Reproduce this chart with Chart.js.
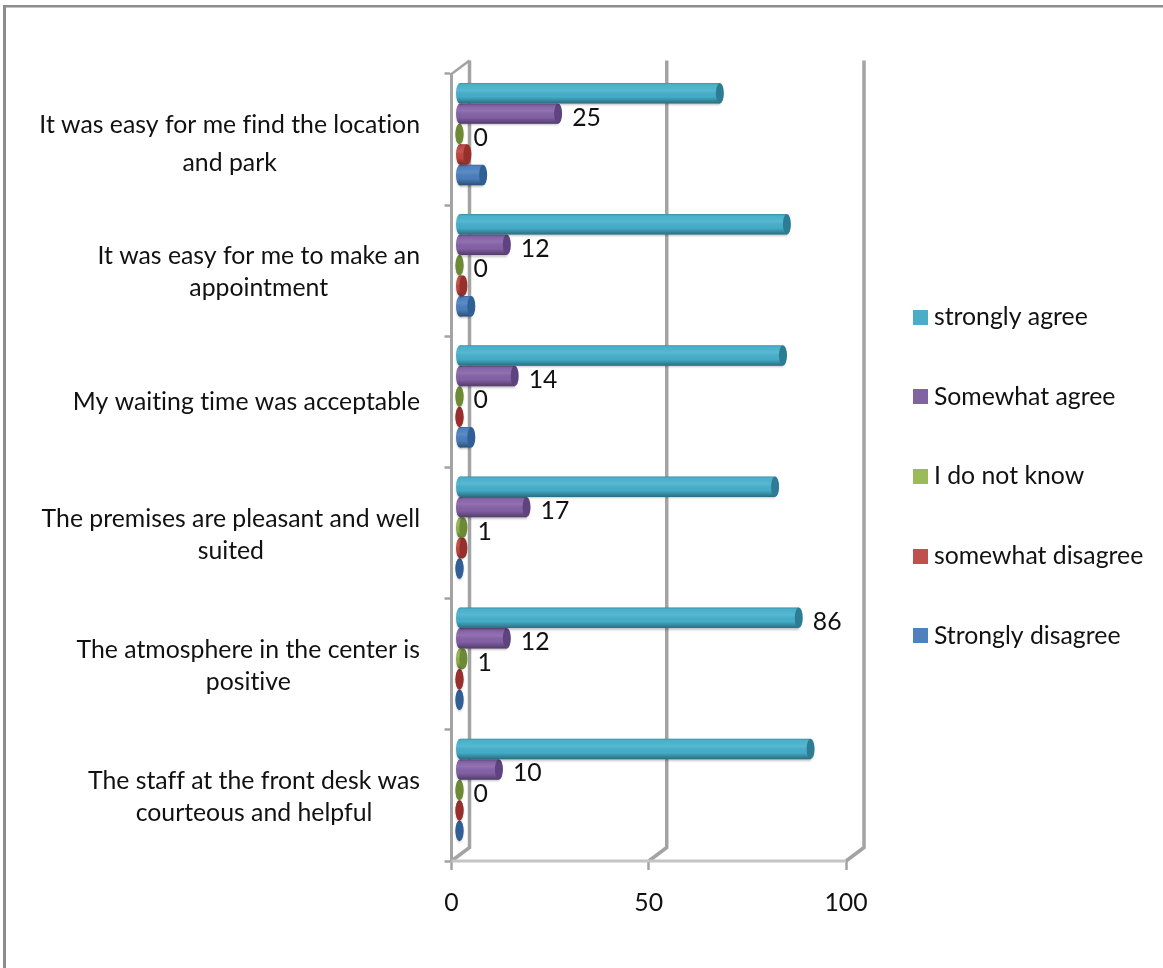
<!DOCTYPE html>
<html><head><meta charset="utf-8">
<style>html,body{margin:0;padding:0;background:#fff}canvas{display:block}</style>
<script src="https://cdn.jsdelivr.net/npm/chart.js@4"></script>
</head><body><canvas id="c" width="1163" height="968"></canvas>
<script>
const categories = [
  ["It was easy for me find the location","and park"],
  ["It was easy for me to make an","appointment"],
  ["My waiting time was acceptable"],
  ["The premises are pleasant and well","suited"],
  ["The atmosphere in the center is","positive"],
  ["The staff at the front desk was","courteous and helpful"]
];
const stronglyAgree    = [66,83,82,80,86,89];
const somewhatAgree    = [25,12,14,17,12,10];
const doNotKnow        = [0,0,0,1,1,0];
const somewhatDisagree = [2,1,0,1,0,0];
const stronglyDisagree = [6,3,3,0,0,0];
const xTicks = [0,50,100];
const FONT = 'Lato';
const FS = 24.8;
const GREY = '#a3a3a3';
const DX = 18, DY = -13.5, BX = 8, BY = -5.5, RX = 4;

const mk = (label,data,color,cap,labelled)=>({label,data,backgroundColor:color,capColor:cap,labelled,borderWidth:0,categoryPercentage:.78,barPercentage:1});
const datasets = [
  mk('strongly agree',stronglyAgree,'#45b0cc','#2c7d93',[4]),
  mk('Somewhat agree',somewhatAgree,'#8562a8','#5f4380',[0,1,2,3,4,5]),
  mk('I do not know',doNotKnow,'#8fb04c','#6c8a35',[0,1,2,3,4,5]),
  mk('somewhat disagree',somewhatDisagree,'#c0453f','#97302c',[]),
  mk('Strongly disagree',stronglyDisagree,'#4a7fbe','#2f5f95',[])
];
const legendColors = ['#4bacc6','#8064a2','#9bbb59','#c0504d','#4f81bd'];
const swatch = col=>{
  const s=document.createElement('canvas'); s.width=15; s.height=15;
  const g=s.getContext('2d'); g.fillStyle=col; g.fillRect(0,0,15,15); return s;
};

function shade(ctx,top,h){
  const g = ctx.createLinearGradient(0,top,0,top+h);
  g.addColorStop(0,'rgba(0,0,0,.2)');
  g.addColorStop(.14,'rgba(255,255,255,.02)');
  g.addColorStop(.36,'rgba(255,255,255,.10)');
  g.addColorStop(.68,'rgba(0,0,0,.02)');
  g.addColorStop(1,'rgba(0,0,0,.38)');
  return g;
}
const bars3d = {
  id:'bars3d',
  afterLayout(chart){
    const l = chart.legend;
    const pad = l.options.labels.padding;
    l.left = 919.5-pad; l.right = 1400; l.width = l.right-l.left;
    l.top = 0; l.bottom = 953;
  },
  beforeDraw(chart){
    const c = chart.ctx;
    c.save();
    c.fillStyle='#8c8c8c';
    c.fillRect(3,5,1160,2.5);
    c.fillRect(3,5,3,963);
    c.restore();
  },
  beforeDatasetsDraw(chart){
    const c = chart.ctx, x = chart.scales.x, a = chart.chartArea;
    c.save();
    c.strokeStyle = GREY; c.lineWidth = 3.5;
    xTicks.forEach(v=>{
      const px = x.getPixelForValue(v);
      c.beginPath();
      c.moveTo(px,a.bottom); c.lineTo(px+DX,a.bottom+DY); c.lineTo(px+DX,a.top+DY);
      c.stroke();
    });
    const p0 = x.getPixelForValue(0);
    c.lineWidth = 2.5;
    c.beginPath(); c.moveTo(p0,a.top); c.lineTo(p0+DX,a.top+DY); c.stroke();
    c.strokeStyle='#c4c4c4'; c.lineWidth=3;
    c.beginPath(); c.moveTo(p0,a.bottom); c.lineTo(x.getPixelForValue(100),a.bottom); c.stroke();
    c.restore();
  },
  beforeDatasetDraw(chart,args){
    const c = chart.ctx, ds = chart.data.datasets[args.index];
    c.save();
    c.translate(BX,BY);
    c.shadowColor='rgba(0,0,0,.22)'; c.shadowBlur=2; c.shadowOffsetY=1.5;
    chart.getDatasetMeta(args.index).data.forEach(b=>{
      c.fillStyle = ds.backgroundColor;
      c.beginPath(); c.ellipse(b.base,b.y,RX,b.height/2,0,0,Math.PI*2); c.fill();
    });
  },
  afterDatasetDraw(chart,args){
    const c = chart.ctx, ds = chart.data.datasets[args.index];
    c.shadowColor='transparent';
    chart.getDatasetMeta(args.index).data.forEach(b=>{
      const t = b.y-b.height/2, h = b.height;
      c.fillStyle = shade(c,t,h);
      c.beginPath();
      c.ellipse(b.base,b.y,RX,h/2,0,Math.PI/2,Math.PI*1.5);
      c.lineTo(b.x,t); c.lineTo(b.x,t+h); c.closePath();
      c.fill();
      c.fillStyle = ds.capColor;
      c.beginPath(); c.ellipse(b.x,b.y,RX,h/2,0,0,Math.PI*2); c.fill();
    });
    c.restore();
  },
  afterDraw(chart){
    const c = chart.ctx, y = chart.scales.y;
    c.save();
    c.textRendering='optimizeSpeed';
    c.font = FS+'px '+FONT; c.fillStyle='#111'; c.textBaseline='middle'; c.textAlign='center';
    categories.forEach((lines,i)=>{
      const cy = y.getPixelForValue(i);
      const gap = i===0?38:32;
      const w = Math.max(...lines.map(s=>c.measureText(s).width));
      const mid = 420-w/2;
      const top = cy+(lines.length>1?(i===0?4.5:1.5):0)-(lines.length-1)*gap/2;
      lines.forEach((s,k)=>c.fillText(s,mid,top+k*gap));
    });
    c.textAlign='left';
    chart.data.datasets.forEach((ds,di)=>{
      chart.getDatasetMeta(di).data.forEach((b,i)=>{
        if(ds.labelled.includes(i)) c.fillText(String(ds.data[i]),b.x+BX+RX+10,b.y+BY+4);
      });
    });
    c.restore();
  }
};

new Chart(document.getElementById('c'),{
  type:'bar',
  data:{labels:categories,datasets},
  plugins:[bars3d],
  options:{
    indexAxis:'y',
    responsive:false,
    animation:false,
    layout:{padding:{top:74,left:0,right:117,bottom:0}},
    plugins:{
      tooltip:{enabled:false},
      title:{display:false},
      legend:{
        position:'right',
        maxWidth:200,
        labels:{
          padding:54.9,usePointStyle:true,pointStyleWidth:2,boxHeight:15,color:'#111',
          font:{family:FONT,size:FS},
          generateLabels:ch=>ch.data.datasets.map((d,i)=>({text:d.label,pointStyle:swatch(legendColors[i]),fillStyle:legendColors[i],strokeStyle:legendColors[i],lineWidth:0,datasetIndex:i,hidden:false,fontColor:'#111'}))
        }
      }
    },
    scales:{
      x:{
        type:'linear',min:0,max:100,
        afterFit:s=>{s.height=107;},
        afterBuildTicks:s=>{s.ticks=xTicks.map(v=>({value:v}));},
        grid:{drawOnChartArea:false,drawTicks:true,tickLength:9,tickColor:GREY,tickWidth:2.5},
        border:{display:false},
        ticks:{color:'#111',font:{family:FONT,size:FS},padding:18,maxRotation:0}
      },
      y:{
        type:'category',
        afterFit:s=>{s.width=451.5;},
        grid:{drawOnChartArea:false,drawTicks:true,tickLength:7,tickColor:GREY,tickWidth:2.5},
        border:{display:true,color:GREY,width:3},
        ticks:{display:false}
      }
    }
  }
});
</script></body></html>
